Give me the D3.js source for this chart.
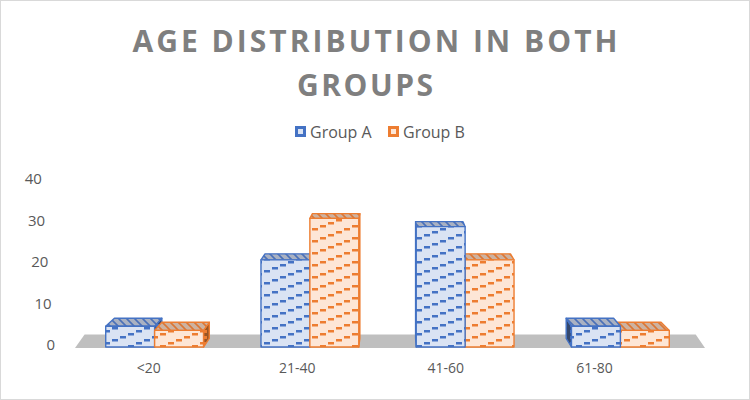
<!DOCTYPE html>
<html>
<head>
<meta charset="UTF-8">
<title>Age Distribution in Both Groups</title>
<script src="https://d3js.org/d3.v7.min.js"></script>
<style>
  body { margin: 0; background: #fff; font-family: "Open Sans", sans-serif; }
</style>
</head>
<body>
<div id="chart"></div>
<script>
// data
const categories = ["<20", "21-40", "41-60", "61-80"];
const groups = ["Group A", "Group B"];
const groupA = [5, 21, 29, 5];
const groupB = [4, 31, 21, 4];
const yTicks = [0, 10, 20, 30, 40];

const W = 750, H = 400;
const svg = d3.select("#chart").append("svg")
  .attr("width", W).attr("height", H);

// chart border
svg.append("rect").attr("x", 0.5).attr("y", 0.5).attr("width", W - 1).attr("height", H - 1)
  .attr("fill", "none").attr("stroke", "#d9d9d9");

const colors = {
  "Group A": {line: "#4472c4", bg: "#dae3f3", topBg: "#a9b1c2", topDash: "#4a70b8", sideBg: "#34486e"},
  "Group B": {line: "#ed7d31", bg: "#fde6d6", topBg: "#cdb2a0", topDash: "#dc7634", sideBg: "#9a5524"}
};

// patterns
const defs = svg.append("defs");
groups.forEach((g, gi) => {
  const c = colors[g];
  const p = defs.append("pattern").attr("id", "front" + gi)
    .attr("patternUnits", "userSpaceOnUse").attr("width", 32).attr("height", 12);
  p.append("rect").attr("width", 32).attr("height", 12).attr("fill", c.bg);
  [0, 1, 2, 3].forEach(k => {
    p.append("rect").attr("x", k * 8).attr("y", 9 - k * 3)
      .attr("width", 6).attr("height", 2.5).attr("fill", c.line);
  });
  const t = defs.append("pattern").attr("id", "top" + gi)
    .attr("patternUnits", "userSpaceOnUse").attr("width", 8).attr("height", 8);
  t.append("rect").attr("width", 8).attr("height", 8).attr("fill", c.topBg);
  t.append("path").attr("d", "M0,0 L8,8 M-4,4 L4,12 M4,-4 L12,4")
    .attr("stroke", c.topDash).attr("stroke-width", 1.6);
  const s = defs.append("pattern").attr("id", "side" + gi)
    .attr("patternUnits", "userSpaceOnUse").attr("width", 6).attr("height", 6);
  s.append("rect").attr("width", 6).attr("height", 6).attr("fill", c.sideBg);
  s.append("rect").attr("x", 0).attr("y", 0).attr("width", 3).attr("height", 3).attr("fill", c.line);
});

// title
const title = svg.append("g").attr("fill", "#7f7f7f")
  .attr("font-family", "'Open Sans', sans-serif").attr("font-weight", "bold")
  .attr("font-size", 30).attr("text-anchor", "middle");
title.append("text").attr("x", 375).attr("y", 52)
  .attr("textLength", 485).attr("lengthAdjust", "spacing")
  .text("AGE DISTRIBUTION IN BOTH");
title.append("text").attr("x", 365).attr("y", 96)
  .attr("textLength", 136).attr("lengthAdjust", "spacing")
  .text("GROUPS");

// scales
const x = d3.scaleBand().domain(categories).range([77, 698])
  .paddingInner(0.37).paddingOuter(0.185);
const xi = d3.scaleBand().domain(groups).range([0, x.bandwidth()]);
const y = d3.scaleLinear().domain([0, 40]).range([347, 181]);

// perspective
const VX = 395, VY = 60, S = 0.97;
const proj = (px, py) => [VX + (px - VX) * S, VY + (py - VY) * S];

// floor
const fl = 75, fr = 705, base = y(0);
const bl = proj(fl, base), br = proj(fr, base);
svg.append("polygon")
  .attr("points", [[fl, base + 1], [fr, base + 1], [br[0], br[1] - 4], [bl[0], bl[1] - 4]].join(" "))
  .attr("fill", "#bfbfbf");

// y labels
svg.append("g").attr("font-size", 15).attr("fill", "#595959").attr("text-anchor", "end")
  .selectAll("text").data(yTicks).join("text")
  .attr("x", d => 55 - d * 0.33)
  .attr("y", d => y(d) + 3)
  .text(d => d);

// x labels
svg.append("g").attr("font-size", 14).attr("fill", "#595959").attr("text-anchor", "middle")
  .selectAll("text").data(categories).join("text")
  .attr("x", d => {
    const c = x(d) + x.bandwidth() / 2;
    return c + 0.7 - 0.043 * c;
  })
  .attr("y", 373)
  .text(d => d);

// bars
const bars = [];
categories.forEach((cat, i) => {
  [groupA[i], groupB[i]].forEach((v, gi) => {
    const x0 = x(cat) + xi(groups[gi]);
    bars.push({cat, gi, v, x0, x1: x0 + xi.bandwidth()});
  });
});
bars.sort((a, b) => Math.abs((b.x0 + b.x1) / 2 - VX) - Math.abs((a.x0 + a.x1) / 2 - VX));

const barG = svg.append("g");
bars.forEach(b => {
  const c = colors[groups[b.gi]];
  const yt = y(b.v), yb = y(0);
  const g = barG.append("g").attr("stroke", c.line).attr("stroke-width", 1.4)
    .attr("stroke-linejoin", "round");
  const center = (b.x0 + b.x1) / 2;
  const sx = center < VX ? b.x1 : b.x0;
  g.append("polygon")
    .attr("points", [[sx, yt], [sx, yb], proj(sx, yb), proj(sx, yt)].join(" "))
    .attr("fill", `url(#side${b.gi})`);
  g.append("polygon")
    .attr("points", [[b.x0, yt], [b.x1, yt], proj(b.x1, yt), proj(b.x0, yt)].join(" "))
    .attr("fill", `url(#top${b.gi})`);
  g.append("rect")
    .attr("x", b.x0).attr("y", yt).attr("width", b.x1 - b.x0).attr("height", yb - yt)
    .attr("fill", `url(#front${b.gi})`);
});

// legend
const legend = svg.append("g").attr("font-size", 16).attr("fill", "#595959");
const legX = [295, 388];
groups.forEach((g, gi) => {
  const c = colors[g];
  legend.append("rect").attr("x", legX[gi]).attr("y", 126).attr("width", 11).attr("height", 11)
    .attr("fill", c.line);
  legend.append("rect").attr("x", legX[gi] + 3).attr("y", 129).attr("width", 5).attr("height", 5)
    .attr("fill", c.bg);
  legend.append("text").attr("x", legX[gi] + 15).attr("y", 138).text(g);
});
</script>
</body>
</html>
